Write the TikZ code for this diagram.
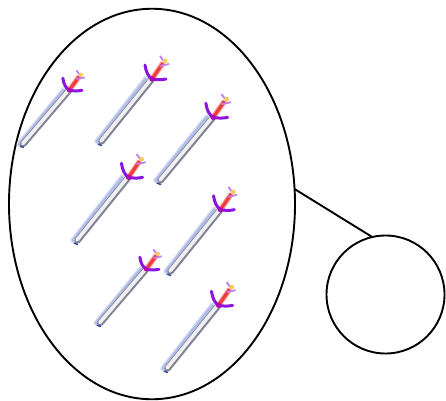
\documentclass[tikz,border=0pt]{standalone}
\usetikzlibrary{shapes.geometric}
\definecolor{shadowblue}{RGB}{176,188,232}
\definecolor{bladegray}{RGB}{130,132,150}
\definecolor{bladelight}{RGB}{240,240,242}
\definecolor{guardpurple}{RGB}{140,20,225}
\definecolor{gripred}{RGB}{238,60,60}
\definecolor{griplight}{RGB}{250,170,160}
\definecolor{tipblue}{RGB}{50,70,170}
\definecolor{pommel}{RGB}{245,205,90}
\tikzset{
  outline/.style={draw=black,line width=1.9pt,fill=none,inner sep=0pt,outer sep=0pt},
  link/.style={draw=black,line width=1.9pt},
  pics/swordicon/.style={code={
    % shadow
    \draw[shadowblue!50!white,line width=4.5pt,line cap=round] (-2.5,3.5) -- (47,67);
    \draw[shadowblue,line width=3pt,line cap=round] (-2,3.5) -- (47,66);
    % blade
    \draw[bladegray,line width=6.5pt,line cap=round] (2.5,3.5) -- (53,66);
    \draw[bladelight,line width=3.6pt,line cap=round] (2,4) -- (52.5,66.5);
    \draw[tipblue,line width=1.5pt,line cap=round] (-1,1) -- (2.5,-0.5);
    % grip
    \draw[griplight,line width=5.5pt] (53,66) -- (64,82);
    \draw[gripred,line width=3.2pt] (53,66) -- (64,82);
    % guard
    \draw[guardpurple,line width=3pt,line cap=round] (46,80)
      .. controls (47,73) and (49,69) .. (53,66)
      .. controls (58,65) and (63,65) .. (67,66);
    \fill[violet!60!magenta] (53,66) circle (2.6pt);
    % pommel
    \draw[guardpurple!55!white,line width=1.8pt] (61,89) -- (66,82);
    \draw[guardpurple!55!white,line width=1.8pt] (61,79) -- (70,81);
    \fill[pommel] (66,84) circle (2.4pt);
  }}
}
\begin{document}
\begin{tikzpicture}[x=1pt,y=1pt]
\useasboundingbox (0,0) rectangle (446,400);
\node[outline,ellipse,minimum width=286pt,minimum height=390.5pt] (big) at (152,196) {};
\node[outline,circle,minimum size=118pt] (small) at (385.5,105.5) {};
\draw[link] (big.6) -- (small.103);
\pic[xscale=0.91,yscale=0.86] at (21,253) {swordicon};
\pic at (99,255) {swordicon};
\pic[xscale=1.04,yscale=1.01] at (158,216) {swordicon};
\pic[xscale=1.01,yscale=1.01] at (75,156) {swordicon};
\pic[xscale=0.99,yscale=0.99] at (168,125) {swordicon};
\pic[xscale=0.91,yscale=0.86] at (98,74) {swordicon};
\pic[xscale=1.01,yscale=1.01] at (165,28) {swordicon};
\end{tikzpicture}
\end{document}
